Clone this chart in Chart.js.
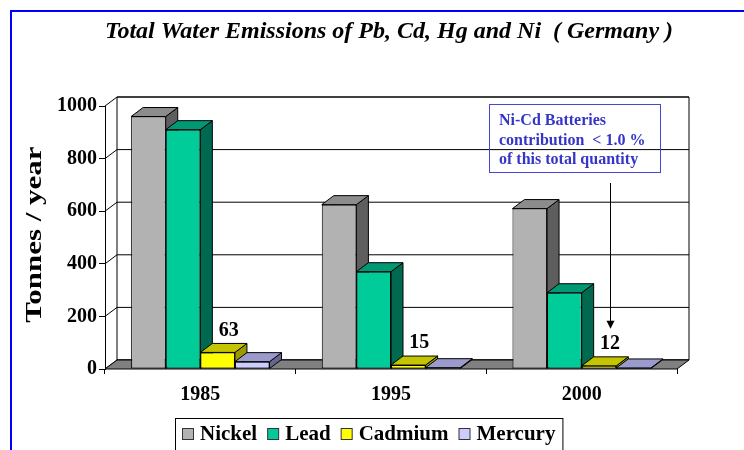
<!DOCTYPE html>
<html>
<head>
<meta charset="utf-8">
<script src="https://cdn.jsdelivr.net/npm/chart.js@4.4.0/dist/chart.umd.min.js"></script>
<style>
  html, body { margin: 0; padding: 0; background: #fff; }
  canvas { display: block; }
</style>
</head>
<body>
<canvas id="grafico" width="744" height="450"></canvas>
<script>
const years = ['1985', '1995', '2000'];
const nickel = [960, 625, 610];
const lead = [910, 370, 290];
const cadmium = [63, 15, 12];
const mercury = [28, 5, 4];
const yTicks = [0, 200, 400, 600, 800, 1000];
const noteLines = ['Ni-Cd Batteries', 'contribution  < 1.0 %', 'of this total quantity'];

const serif = '"Liberation Serif", "Times New Roman", serif';
const DX = 12, DY = -9; // profundidad del efecto 3D

// frente, arriba, costado
const caras = [
    ['#b2b2b2', '#8c8c8c', '#5e5e5e'],
    ['#00cc99', '#009973', '#00694f'],
    ['#ffff00', '#c4c400', '#9a9a00'],
    ['#ccccff', '#9a9acc', '#66668f']
];

function poly(ctx, pts, fill) {
    ctx.beginPath();
    ctx.moveTo(pts[0][0], pts[0][1]);
    for (let i = 1; i < pts.length; i++) ctx.lineTo(pts[i][0], pts[i][1]);
    ctx.closePath();
    if (fill) { ctx.fillStyle = fill; ctx.fill(); }
    ctx.stroke();
}

const tresD = {
    id: 'tresD',
    beforeDatasetsDraw(chart) {
        const ctx = chart.ctx;
        const a = chart.chartArea;
        const y = chart.scales.y;
        ctx.save();
        ctx.strokeStyle = '#000';
        ctx.lineWidth = 1;

        // pared del fondo
        poly(ctx, [[a.left + DX, a.top + DY], [a.right + DX, a.top + DY],
                   [a.right + DX, a.bottom + DY], [a.left + DX, a.bottom + DY]], '#fff');

        // lineas de grilla (pared lateral + fondo)
        y.ticks.forEach(t => {
            const py = y.getPixelForValue(t.value);
            ctx.beginPath();
            ctx.moveTo(a.left, py);
            ctx.lineTo(a.left + DX, py + DY);
            ctx.lineTo(a.right + DX, py + DY);
            ctx.stroke();
        });

        // piso
        poly(ctx, [[a.left, a.bottom], [a.right, a.bottom],
                   [a.right + DX, a.bottom + DY], [a.left + DX, a.bottom + DY]], '#808080');

        // caras superiores y laterales de las barras
        const metas = chart.data.datasets.map((d, i) => chart.getDatasetMeta(i));
        for (let j = 0; j < chart.data.labels.length; j++) {
            metas.forEach((meta, i) => {
                const b = meta.data[j];
                const x0 = b.x - b.width / 2, x1 = b.x + b.width / 2;
                poly(ctx, [[x1, b.y], [x1 + DX, b.y + DY], [x1 + DX, b.base + DY], [x1, b.base]], caras[i][2]);
                poly(ctx, [[x0, b.y], [x1, b.y], [x1 + DX, b.y + DY], [x0 + DX, b.y + DY]], caras[i][1]);
            });
        }
        ctx.restore();
    },
    afterDatasetsDraw(chart) {
        const ctx = chart.ctx;
        ctx.save();
        ctx.font = 'bold 20px ' + serif;
        ctx.fillStyle = '#000';
        ctx.textAlign = 'center';
        ctx.textBaseline = 'middle';
        chart.getDatasetMeta(2).data.forEach((b, j) => {
            ctx.fillText(String(cadmium[j]), b.x + DX - 1, b.y + DY - 13);
        });
        ctx.restore();
    },
    afterDraw(chart) {
        const ctx = chart.ctx;
        const a = chart.chartArea;
        ctx.save();

        // marco azul
        ctx.strokeStyle = '#0000ff';
        ctx.lineWidth = 2;
        ctx.beginPath();
        ctx.moveTo(11, chart.height);
        ctx.lineTo(11, 11);
        ctx.lineTo(chart.width, 11);
        ctx.stroke();

        // titulo
        ctx.fillStyle = '#000';
        ctx.font = 'italic bold 24px ' + serif;
        ctx.textAlign = 'center';
        ctx.textBaseline = 'middle';
        ctx.fillText('Total Water Emissions of Pb, Cd, Hg and Ni  ( Germany )', 389, 32);

        // titulo eje Y (angosto como en el original)
        ctx.save();
        ctx.translate(35, (a.top + a.bottom) / 2 - 3);
        ctx.rotate(-Math.PI / 2);
        ctx.scale(1, 0.75);
        ctx.font = 'bold 31px ' + serif;
        ctx.fillText('Tonnes / year', 0, 0);
        ctx.restore();

        // nota
        ctx.strokeStyle = '#4646dc';
        ctx.lineWidth = 1;
        ctx.strokeRect(489.5, 104.5, 171, 68);
        ctx.fillStyle = '#3535c8';
        ctx.font = 'bold 16px ' + serif;
        ctx.textAlign = 'left';
        noteLines.forEach((t, i) => ctx.fillText(t, 499, 121 + i * 19.5));

        // flecha hacia el valor de cadmio 2000
        const bc = chart.getDatasetMeta(2).data[2];
        const ax = Math.round(bc.x + DX - 1) + 0.5;
        const tip = bc.y + DY - 13 - 15;
        ctx.strokeStyle = '#000';
        ctx.fillStyle = '#000';
        ctx.beginPath();
        ctx.moveTo(ax, 183);
        ctx.lineTo(ax, tip - 6);
        ctx.stroke();
        ctx.beginPath();
        ctx.moveTo(ax - 4, tip - 8);
        ctx.lineTo(ax + 4, tip - 8);
        ctx.lineTo(ax, tip);
        ctx.closePath();
        ctx.fill();

        // leyenda
        ctx.font = 'bold 21px ' + serif;
        ctx.textBaseline = 'middle';
        const items = chart.data.datasets.map((d, i) => ({ label: d.label, color: caras[i][0], w: ctx.measureText(d.label).width }));
        const total = items.reduce((s, it) => s + 18 + it.w, 0) + 10 * (items.length - 1) + 14;
        let lx = Math.round(369 - total / 2);
        ctx.strokeStyle = '#000';
        ctx.strokeRect(lx + 0.5, 418.5, total, 34);
        lx += 7;
        items.forEach(it => {
            ctx.fillStyle = it.color;
            ctx.fillRect(lx + 0.5, 428.5, 11, 11);
            ctx.strokeStyle = '#333';
            ctx.strokeRect(lx + 0.5, 428.5, 11, 11);
            ctx.fillStyle = '#000';
            ctx.fillText(it.label, lx + 18, 435);
            lx += 18 + it.w + 10;
        });
        ctx.restore();
    }
};

const tickFont = { family: serif, size: 20, weight: 'bold' };

new Chart(document.getElementById('grafico'), {
    type: 'bar',
    data: {
        labels: years,
        datasets: [
            { label: 'Nickel', data: nickel, backgroundColor: caras[0][0] },
            { label: 'Lead', data: lead, backgroundColor: caras[1][0] },
            { label: 'Cadmium', data: cadmium, backgroundColor: caras[2][0] },
            { label: 'Mercury', data: mercury, backgroundColor: caras[3][0] }
        ]
    },
    options: {
        responsive: false,
        animation: false,
        devicePixelRatio: 1,
        layout: { padding: { left: 16, top: 106, right: 67, bottom: 41 } },
        datasets: {
            bar: {
                categoryPercentage: 0.726,
                barPercentage: 1,
                borderWidth: 1,
                borderColor: '#000',
                borderSkipped: false
            }
        },
        plugins: {
            legend: { display: false },
            title: { display: false },
            tooltip: { enabled: false }
        },
        scales: {
            x: {
                grid: { drawOnChartArea: false, offset: true, tickLength: 5, color: '#000' },
                border: { display: false },
                ticks: { font: tickFont, color: '#000', padding: 9 },
                afterFit(s) { s.height = 40; }
            },
            y: {
                min: 0,
                max: 1000,
                afterBuildTicks(s) { s.ticks = yTicks.map(v => ({ value: v })); },
                grid: { drawOnChartArea: false, tickLength: 6, color: '#000' },
                border: { display: true, color: '#000' },
                ticks: { font: tickFont, color: '#000', padding: 2, callback: v => String(v) },
                afterFit(s) { s.width = 89; }
            }
        }
    },
    plugins: [tresD]
});
</script>
</body>
</html>
